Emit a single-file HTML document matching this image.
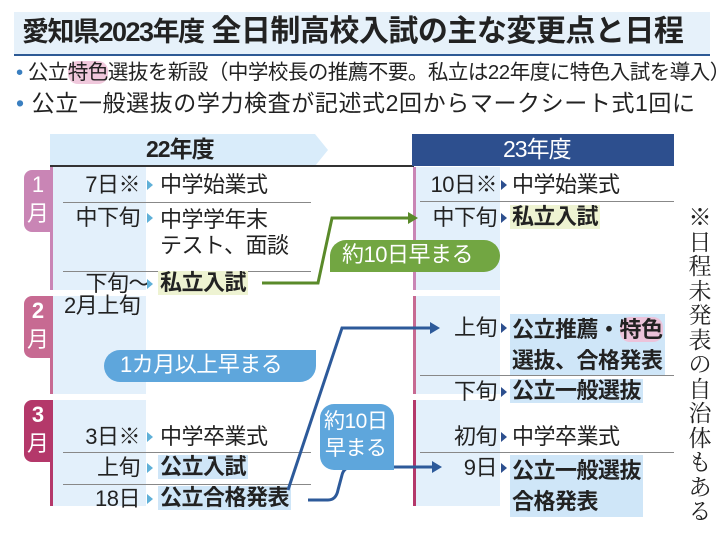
<!DOCTYPE html>
<html><head><meta charset="utf-8"><style>
body{margin:0;width:724px;height:534px;background:#fff;position:relative;overflow:hidden;font-family:"Liberation Sans","Noto Sans CJK JP",sans-serif;color:#222}
.a{position:absolute;white-space:nowrap;line-height:1}
.t{font-size:22px;letter-spacing:-0.5px}
.b{font-weight:bold}
.dl{position:absolute;width:90px;left:50px;text-align:right;font-size:22px;line-height:1;letter-spacing:-0.5px}
.dr{position:absolute;width:90px;left:407px;text-align:right;font-size:22px;line-height:1;letter-spacing:-0.5px}
.ln{position:absolute;height:1px;background:#888}
.tri{position:absolute;width:0;height:0;border-top:5px solid transparent;border-bottom:5px solid transparent;border-left:6px solid #5fb0d8}
</style></head><body>
<div class="a" style="left:14px;top:12px;width:696px;height:42px;background:#e6f1fa;border-bottom:2px solid #2d5a95"></div>
<div class="a" style="left:22px;top:17px;font-size:27px;font-weight:bold;letter-spacing:-1.5px">愛知県2023年度<span style="font-size:30px;letter-spacing:-0.5px"> 全日制高校入試の主な変更点と日程</span></div>
<div class="a" style="left:16px;top:63px;font-size:20.5px;letter-spacing:-0.5px"><span style="color:#3a7fc0">•</span> 公立<span style="background:#f0c8dc;border-radius:10px">特色</span>選抜を新設（中学校長の推薦不要。私立は22年度に特色入試を導入）</div>
<div class="a" style="left:16px;top:92px;font-size:23px;letter-spacing:0.6px"><span style="color:#3a7fc0">•</span> 公立一般選抜の学力検査が記述式2回からマークシート式1回に</div>

<svg class="a" style="left:50px;top:134px" width="280" height="33"><polygon points="0,0 265,0 278,16 265,32 0,32" fill="#d9ecfa"/></svg>
<div class="a b" style="left:146px;top:138px;font-size:23px;letter-spacing:-1px">22年度</div>
<div class="a" style="left:50px;top:165px;width:364px;height:2px;background:#333"></div>
<div class="a" style="left:412px;top:134px;width:262px;height:32px;background:#2d4f8e"></div>
<div class="a" style="left:503px;top:138px;font-size:23px;color:#fff;letter-spacing:-1px">23年度</div>

<div class="a" style="left:52px;top:167px;width:94px;height:123px;background:#e3f0fb"></div>
<div class="a" style="left:52px;top:296px;width:94px;height:98px;background:#e3f0fb"></div>
<div class="a" style="left:52px;top:400px;width:94px;height:106px;background:#e3f0fb"></div>
<div class="a" style="left:50px;top:167px;width:3px;height:123px;background:#c985b5"></div>
<div class="a" style="left:50px;top:296px;width:3px;height:98px;background:#c76a92"></div>
<div class="a" style="left:50px;top:400px;width:3px;height:106px;background:#b4386a"></div>
<div class="a" style="left:24px;top:170px;width:28px;height:62px;background:#c985b5;border-radius:8px 0 0 8px;color:#fff;text-align:center;font-size:22px;line-height:29px">1<br>月</div>
<div class="a" style="left:24px;top:296px;width:28px;height:62px;background:#c76a92;border-radius:8px 0 0 8px;color:#fff;text-align:center;font-size:22px;line-height:29px"><b>2</b><br>月</div>
<div class="a" style="left:24px;top:400px;width:28px;height:62px;background:#b4386a;border-radius:8px 0 0 8px;color:#fff;text-align:center;font-size:22px;line-height:29px"><b>3</b><br>月</div>

<div class="a" style="left:416px;top:167px;width:84px;height:123px;background:#e3f0fb"></div>
<div class="a" style="left:416px;top:296px;width:84px;height:98px;background:#e3f0fb"></div>
<div class="a" style="left:416px;top:400px;width:84px;height:106px;background:#e3f0fb"></div>
<div class="a" style="left:413px;top:167px;width:3px;height:123px;background:#c985b5"></div>
<div class="a" style="left:413px;top:296px;width:3px;height:98px;background:#c76a92"></div>
<div class="a" style="left:413px;top:400px;width:3px;height:106px;background:#b4386a"></div>

<div class="dl" style="top:174px">7日※</div><div class="tri" style="left:147px;top:180px"></div><div class="a t" style="left:160px;top:174px">中学始業式</div>
<div class="ln" style="left:63px;top:202px;width:248px"></div>
<div class="dl" style="top:207px">中下旬</div><div class="tri" style="left:147px;top:213px"></div><div class="a t" style="left:160px;top:207px;line-height:26px">中学学年末<br>テスト、面談</div>
<div class="ln" style="left:63px;top:271px;width:248px"></div>
<div class="a t" style="left:64px;top:273px;line-height:22px;text-align:left">　下旬～<br>2月上旬</div><div class="tri" style="left:147px;top:279px"></div>
<div class="a t b" style="left:158px;top:271px;background:#eef3d2;padding:1px 2px">私立入試</div>

<div class="dl" style="top:426px">3日※</div><div class="tri" style="left:147px;top:432px"></div><div class="a t" style="left:160px;top:426px">中学卒業式</div>
<div class="ln" style="left:63px;top:452px;width:248px"></div>
<div class="dl" style="top:457px">上旬</div><div class="tri" style="left:147px;top:463px"></div><div class="a t b" style="left:158px;top:455px;background:#cfe6f8;padding:1px 2px">公立入試</div>
<div class="ln" style="left:63px;top:484px;width:248px"></div>
<div class="dl" style="top:488px">18日</div><div class="tri" style="left:147px;top:494px"></div><div class="a t b" style="left:158px;top:486px;background:#cfe6f8;padding:1px 2px">公立合格発表</div>

<div class="dr" style="top:174px">10日※</div><div class="tri" style="left:501px;top:180px;border-left-color:#2d4f8e"></div><div class="a t" style="left:512px;top:174px">中学始業式</div>
<div class="ln" style="left:420px;top:201px;width:254px"></div>
<div class="dr" style="top:207px">中下旬</div><div class="tri" style="left:501px;top:213px;border-left-color:#2d4f8e"></div><div class="a t b" style="left:510px;top:205px;background:#eef3d2;padding:1px 2px">私立入試</div>

<div class="dr" style="top:317px">上旬</div><div class="tri" style="left:501px;top:323px;border-left-color:#2d4f8e"></div>
<div class="a t b" style="left:510px;top:314px;line-height:31px;background:#cfe6f8;padding:0 2px">公立推薦・<span style="background:#ecc3da;border-radius:10px">特色</span><br>選抜、合格発表</div>
<div class="ln" style="left:420px;top:375px;width:254px"></div>
<div class="dr" style="top:381px">下旬</div><div class="tri" style="left:501px;top:387px;border-left-color:#2d4f8e"></div><div class="a t b" style="left:510px;top:379px;background:#cfe6f8;padding:1px 2px">公立一般選抜</div>

<div class="dr" style="top:426px">初旬</div><div class="tri" style="left:501px;top:432px;border-left-color:#2d4f8e"></div><div class="a t" style="left:512px;top:426px">中学卒業式</div>
<div class="ln" style="left:420px;top:452px;width:254px"></div>
<div class="dr" style="top:457px">9日</div><div class="tri" style="left:501px;top:463px;border-left-color:#2d4f8e"></div>
<div class="a t b" style="left:510px;top:455px;line-height:31px;background:#cfe6f8;padding:0 2px">公立一般選抜<br>合格発表</div>

<div class="a" style="left:688px;top:206px;font-family:'Liberation Serif','Noto Serif CJK SC',serif;font-size:23px;line-height:24.5px;width:24px;text-align:center;white-space:normal">※日程未発表の自治体もある</div>

<svg class="a" style="left:0;top:0" width="724" height="534">
<polyline points="262,283 318,283 332,218 408,218" fill="none" stroke="#5a8a2a" stroke-width="3"/>
<polygon points="408,212 418,218 408,224" fill="#5a8a2a"/>
<polyline points="288,490 342,328 430,328" fill="none" stroke="#2d5a9a" stroke-width="3"/>
<polygon points="430,322 440,328 430,334" fill="#2d5a9a"/>
<path d="M308,500 L328,500 Q336,500 338,490 L342,475 Q344,467 352,467 L432,467" fill="none" stroke="#2d5a9a" stroke-width="3"/>
<polygon points="432,461 442,467 432,473" fill="#2d5a9a"/>
</svg>
<div class="a" style="left:330px;top:240px;width:170px;height:32px;background:#72a642;border-radius:16px 16px 16px 0"></div>
<div class="a" style="left:342px;top:244px;font-size:22px;color:#fff;letter-spacing:-0.5px">約10日早まる</div>
<div class="a" style="left:104px;top:350px;width:212px;height:32px;background:#5ea6dc;border-radius:16px 0 16px 16px"></div>
<div class="a" style="left:120px;top:354px;font-size:22px;color:#fff;letter-spacing:-0.5px">1カ月以上早まる</div>
<div class="a" style="left:320px;top:404px;width:74px;height:66px;background:#5ea6dc;border-radius:14px 14px 0 14px"></div>
<div class="a" style="left:324px;top:408px;font-size:21px;color:#fff;line-height:27px;text-align:center;letter-spacing:-0.5px">約10日<br>早まる</div>
</body></html>
